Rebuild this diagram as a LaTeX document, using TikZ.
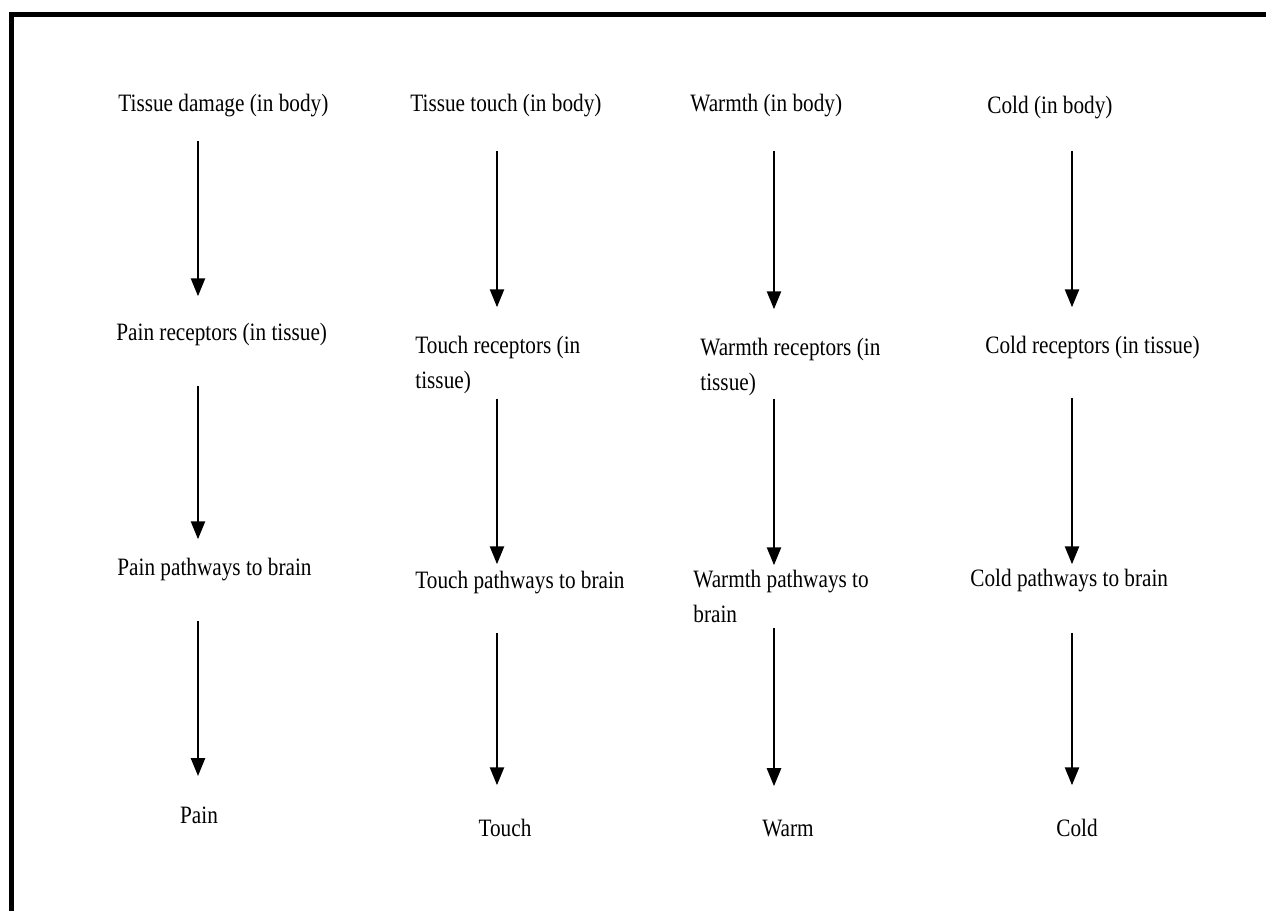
\documentclass[tikz,border=0pt]{standalone}
\usepackage{fontspec}
\setmainfont{Liberation Serif}[FakeStretch=0.85]
\usetikzlibrary{arrows.meta}
\begin{document}
\begin{tikzpicture}[x=0.5pt,y=-0.5pt]
    \tikzset{etiquette/.style={inner sep=0pt, anchor=base west, align=left, font=\fontsize{12.5}{17.5}\selectfont}}
    \tikzset{fleche/.style={line width=1.25pt, -{Triangle[width=7pt,length=9pt]}}}
    \useasboundingbox (0,0) rectangle (1266,911);
    \draw[line width=2.5pt] (11.5,911) -- (11.5,14.5) -- (1266,14.5);
    \coordinate (c1) at (198,0);
    \coordinate (c2) at (497,0);
    \coordinate (c3) at (774,0);
    \coordinate (c4) at (1072,0);
    \node[etiquette] (t1) at (118,111) {Tissue damage (in body)};
    \node[etiquette] (t2) at (410,111) {Tissue touch (in body)};
    \node[etiquette] (t3) at (690,111) {Warmth (in body)};
    \node[etiquette] (t4) at (987,113) {Cold (in body)};
    \node[etiquette] (r1) at (116,340) {Pain receptors (in tissue)};
    \node[etiquette] (r2) at (415,388) {Touch receptors (in\\tissue)};
    \node[etiquette] (r3) at (700,390) {Warmth receptors (in\\tissue)};
    \node[etiquette] (r4) at (985,353) {Cold receptors (in tissue)};
    \node[etiquette] (p1) at (117,575) {Pain pathways to brain};
    \node[etiquette] (p2) at (415,588) {Touch pathways to brain};
    \node[etiquette] (p3) at (693,622) {Warmth pathways to\\brain};
    \node[etiquette] (p4) at (970,586) {Cold pathways to brain};
    \node[etiquette,anchor=base] (s1) at (199,823) {Pain};
    \node[etiquette,anchor=base] (s2) at (505,836) {Touch};
    \node[etiquette,anchor=base] (s3) at (788,836) {Warm};
    \node[etiquette,anchor=base] (s4) at (1077,836) {Cold};
    \draw[fleche, shorten <=12pt, shorten >=13pt] (t1.south -| c1) -- (r1.north -| c1);
    \draw[fleche, shorten <=20pt, shorten >=9pt] (r1.south -| c1) -- (p1.north -| c1);
    \draw[fleche, shorten <=20pt, shorten >=15pt] (p1.south -| c1) -- (s1.north -| c1);
    \draw[fleche, shorten <=17pt, shorten >=14pt] (t2.south -| c2) -- (r2.north -| c2);
    \draw[fleche, shorten <=2.5pt, shorten >=3pt] (r2.south -| c2) -- (p2.north -| c2);
    \draw[fleche, shorten <=19.5pt, shorten >=16.5pt] (p2.south -| c2) -- (s2.north -| c2);
    \draw[fleche, shorten <=17pt, shorten >=14pt] (t3.south -| c3) -- (r3.north -| c3);
    \draw[fleche, shorten <=1.5pt, shorten >=2pt] (r3.south -| c3) -- (p3.north -| c3);
    \draw[fleche, shorten <=2.5pt, shorten >=16.5pt] (p3.south -| c3) -- (s3.north -| c3);
    \draw[fleche, shorten <=16pt, shorten >=14pt] (t4.south -| c4) -- (r4.north -| c4);
    \draw[fleche, shorten <=19.5pt, shorten >=2pt] (r4.south -| c4) -- (p4.north -| c4);
    \draw[fleche, shorten <=20.5pt, shorten >=16.5pt] (p4.south -| c4) -- (s4.north -| c4);
\end{tikzpicture}
\end{document}
